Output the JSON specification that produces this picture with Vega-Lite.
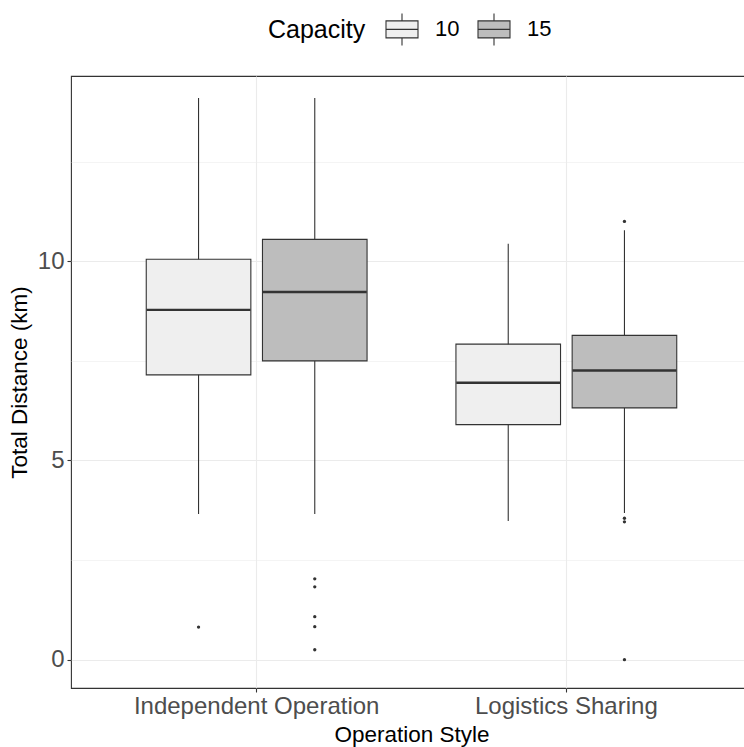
{
  "$schema": "https://vega.github.io/schema/vega-lite/v6.json",
  "width": 681,
  "height": 612,
  "autosize": {"type": "none"},
  "padding": {"left": 71, "top": 76, "right": 0, "bottom": 59},
  "background": "white",
  "config": {
    "font": "Liberation Sans",
    "view": {"stroke": "#333333", "strokeWidth": 1.1},
    "axis": {
      "domain": false,
      "gridColor": "#EBEBEB",
      "tickColor": "#333333",
      "tickWidth": 1.1,
      "tickSize": 4,
      "labelColor": "#4D4D4D",
      "labelFontSize": 24,
      "labelLimit": 0,
      "titleColor": "#000000",
      "titleFontSize": 22.5,
      "titleFontWeight": "normal"
    }
  },
  "datasets": {
    "boxes": [
      {"style": "Independent Operation", "cap": "10", "lower": 3.66, "q1": 7.15, "median": 8.78, "q3": 10.05, "upper": 14.1},
      {"style": "Independent Operation", "cap": "15", "lower": 3.66, "q1": 7.5, "median": 9.23, "q3": 10.55, "upper": 14.1},
      {"style": "Logistics Sharing", "cap": "10", "lower": 3.48, "q1": 5.9, "median": 6.95, "q3": 7.92, "upper": 10.44},
      {"style": "Logistics Sharing", "cap": "15", "lower": 3.68, "q1": 6.32, "median": 7.26, "q3": 8.14, "upper": 10.78}
    ],
    "outliers": [
      {"style": "Independent Operation", "cap": "10", "value": 0.82},
      {"style": "Independent Operation", "cap": "15", "value": 2.03},
      {"style": "Independent Operation", "cap": "15", "value": 1.83},
      {"style": "Independent Operation", "cap": "15", "value": 1.08},
      {"style": "Independent Operation", "cap": "15", "value": 0.83},
      {"style": "Independent Operation", "cap": "15", "value": 0.25},
      {"style": "Logistics Sharing", "cap": "15", "value": 11.0},
      {"style": "Logistics Sharing", "cap": "15", "value": 3.55},
      {"style": "Logistics Sharing", "cap": "15", "value": 3.46},
      {"style": "Logistics Sharing", "cap": "15", "value": 0.0}
    ]
  },
  "encoding": {
    "x": {
      "field": "style",
      "type": "nominal",
      "scale": {"domain": ["Independent Operation", "Logistics Sharing"], "paddingInner": 0.287, "paddingOuter": 0.243},
      "axis": {
        "title": "Operation Style",
        "labelAngle": 0,
        "grid": true,
        "gridWidth": 1.1,
        "bandPosition": 0.5,
        "labelPadding": 2,
        "titlePadding": 5
      }
    },
    "xOffset": {
      "field": "cap",
      "type": "nominal",
      "scale": {"domain": ["10", "15"], "paddingInner": 0.1, "paddingOuter": 0}
    }
  },
  "layer": [
    {
      "data": {"name": "boxes"},
      "mark": {"type": "rule", "color": "#333333", "strokeWidth": 1.1},
      "encoding": {
        "y": {
          "field": "lower",
          "type": "quantitative",
          "scale": {"domain": [-0.71, 14.65], "nice": false, "zero": false},
          "axis": {
            "title": "Total Distance (km)",
            "values": [0, 2.5, 5, 7.5, 10, 12.5],
            "labelExpr": "datum.value % 5 === 0 ? datum.label : ''",
            "tickColor": {"condition": {"test": "datum.value % 5 === 0", "value": "#333333"}, "value": "transparent"},
            "gridWidth": {"condition": {"test": "datum.value % 5 === 0", "value": 1.1}, "value": 0.55},
            "labelPadding": 3,
            "titlePadding": 6
          }
        },
        "y2": {"field": "upper"}
      }
    },
    {
      "data": {"name": "boxes"},
      "mark": {"type": "bar", "stroke": "#333333", "strokeWidth": 1.1},
      "encoding": {
        "y": {"field": "q1", "type": "quantitative"},
        "y2": {"field": "q3"},
        "fill": {
          "field": "cap",
          "type": "nominal",
          "scale": {"domain": ["10", "15"], "range": ["#EFEFEF", "#BDBDBD"]},
          "legend": {
            "title": "Capacity",
            "orient": "none",
            "legendX": 197,
            "legendY": -64,
            "direction": "horizontal",
            "titleOrient": "left",
            "titleFontSize": 25,
            "titleFontWeight": "normal",
            "titleColor": "#000000",
            "titlePadding": 19,
            "labelFontSize": 22,
            "labelColor": "#000000",
            "labelOffset": 16,
            "columnPadding": 15,
            "symbolType": "M-1,-0.53H1V0.53H-1Z M-1,0H1 M0,-0.53V-1 M0,0.53V1",
            "symbolSize": 1024,
            "symbolStrokeColor": "#333333",
            "symbolStrokeWidth": 1.1,
            "symbolOpacity": 1
          }
        }
      }
    },
    {
      "data": {"name": "boxes"},
      "mark": {"type": "tick", "color": "#333333", "size": 104, "thickness": 2.4, "opacity": 1},
      "encoding": {
        "y": {"field": "median", "type": "quantitative"}
      }
    },
    {
      "data": {"name": "outliers"},
      "mark": {"type": "circle", "color": "#333333", "size": 11, "opacity": 1},
      "encoding": {
        "y": {"field": "value", "type": "quantitative"}
      }
    }
  ]
}
